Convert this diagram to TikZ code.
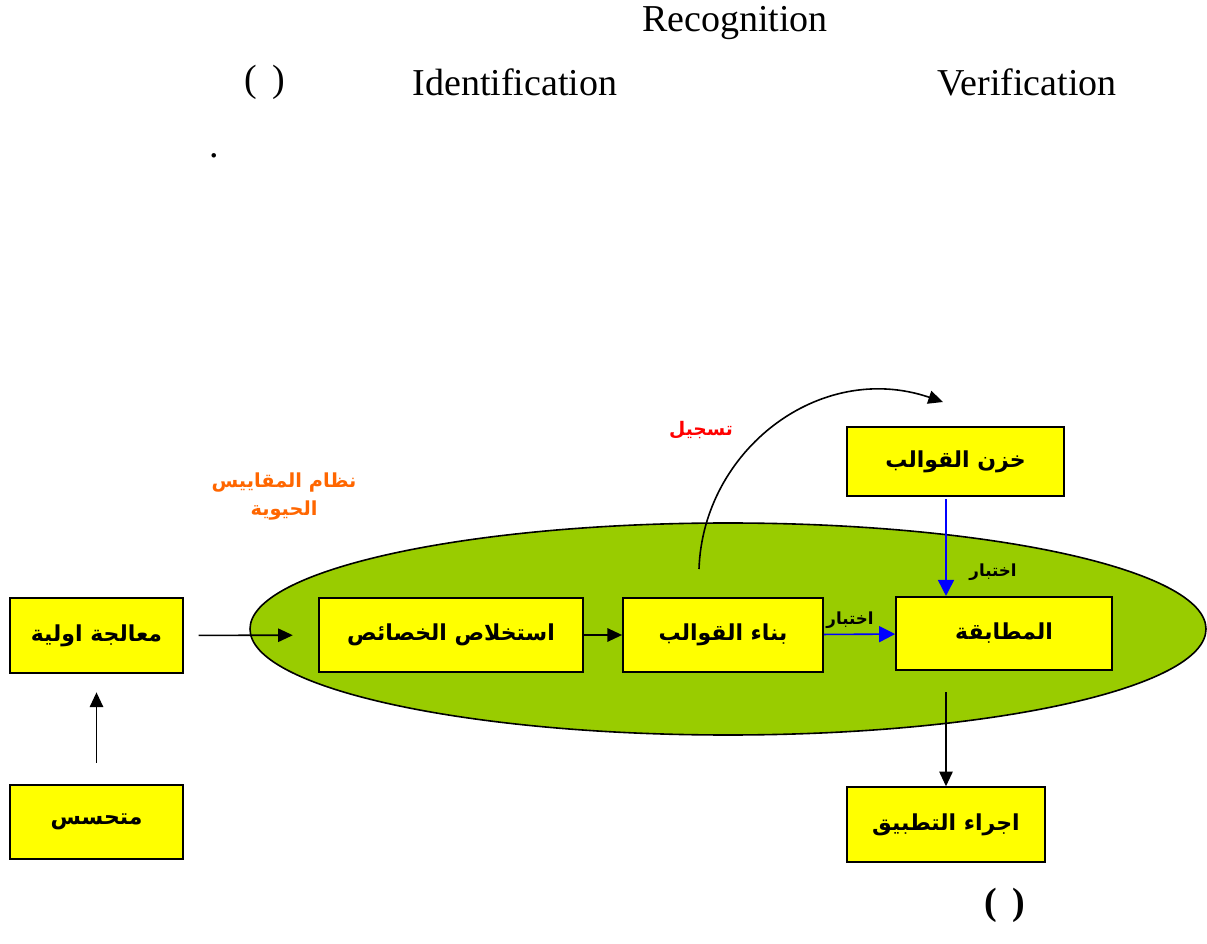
\documentclass[tikz,border=0pt]{standalone}
\usepackage{fontspec}
\setmainfont{Liberation Serif}
\newfontfamily\arabicfont[Script=Arabic]{DejaVu Sans}
\TeXXeTstate=1
\usepackage{tikz}
\usetikzlibrary{shapes, arrows.meta, positioning, calc}

\definecolor{boxyellow}{HTML}{FFFF00}
\definecolor{biogreen}{HTML}{99CC00}
\definecolor{titleorange}{HTML}{FF6600}

\newcommand{\artext}[1]{{\arabicfont\bfseries\beginR #1\endR}}

\begin{document}
\begin{tikzpicture}[
		x=0.75pt, y=-0.75pt,
		stage/.style={draw, line width=1.3pt, fill=boxyellow, inner sep=0pt,
			font=\fontsize{16.5}{18}\selectfont},
		flow/.style={line width=1.2pt, -{Triangle[length=11pt,width=10pt]}},
		testflow/.style={line width=1.2pt, blue, -{Triangle[length=12pt,width=12pt]}},
		entext/.style={font=\fontsize{28.5}{32}\selectfont}
	]
	\useasboundingbox (0,0) rectangle (1207,944);

	\node[entext] (recog) at (735,23) {Recognition};
	\node[entext] (paren) at (265,82) {(\ \,)};
	\node[entext] (ident) at (515,82) {Identification};
	\node[entext] (verif) at (1027,82) {Verification};
	\node[entext] (dot) at (214,156) {.};

	\draw[line width=1.2pt, fill=biogreen] (728,629) ellipse [x radius=478, y radius=106];

	\node[stage, minimum width=129.75pt, minimum height=56pt] (pre) at (96.5,635.5) {\artext{معالجة اولية}};
	\node[stage, minimum width=129.75pt, minimum height=55.5pt] (sensor) at (96.5,822) {\artext{متحسس}};
	\node[stage, minimum width=198pt, minimum height=55.5pt] (feat) at (451,635) {\artext{استخلاص الخصائص}};
	\node[stage, minimum width=150pt, minimum height=55.5pt] (tmpl) at (723,635) {\artext{بناء القوالب}};
	\node[stage, minimum width=162pt, minimum height=55pt] (match) at (1004,633.5) {\artext{المطابقة}};
	\node[stage, minimum width=162.75pt, minimum height=52pt] (store) at (955.5,461.5) {\artext{خزن القوالب}};
	\node[stage, minimum width=148.5pt, minimum height=56pt] (apply) at (946,824.5) {\artext{اجراء التطبيق}};

	\node[text=titleorange, align=center, font=\fontsize{14.5}{21}\selectfont] (system) at (284,497)
		{\artext{نظام المقاييس}\\\artext{الحيوية}};
	\node[text=red, font=\fontsize{14}{16}\selectfont] (register) at (701,430) {\artext{تسجيل}};
	\node[font=\fontsize{12.5}{14}\selectfont] (testa) at (850,620) {\artext{اختبار}};
	\node[font=\fontsize{12.5}{14}\selectfont] (testb) at (993,572) {\artext{اختبار}};
	\node[entext, font=\fontsize{28.5}{32}\selectfont\bfseries] (figparen) at (1005,905) {(\ \,)};

	\coordinate (regstart) at (699,569);
	\coordinate (regend) at (943,402);

	\draw[flow, shorten <=11pt, shorten >=19pt] (pre) -- (feat);
	\draw[flow] (feat) -- (tmpl);
	\draw[flow, shorten <=16pt, shorten >=14pt] (sensor) -- (pre);
	\draw[testflow] (tmpl) -- (match);
	\draw[testflow, shorten <=1.5pt] (store.south -| apply) -- (match.north -| apply);
	\draw[flow, shorten <=16pt] (match.south -| apply) -- (apply);
	\draw[flow] (regstart) .. controls (703,450) and (820,360) .. (regend);
\end{tikzpicture}
\end{document}
